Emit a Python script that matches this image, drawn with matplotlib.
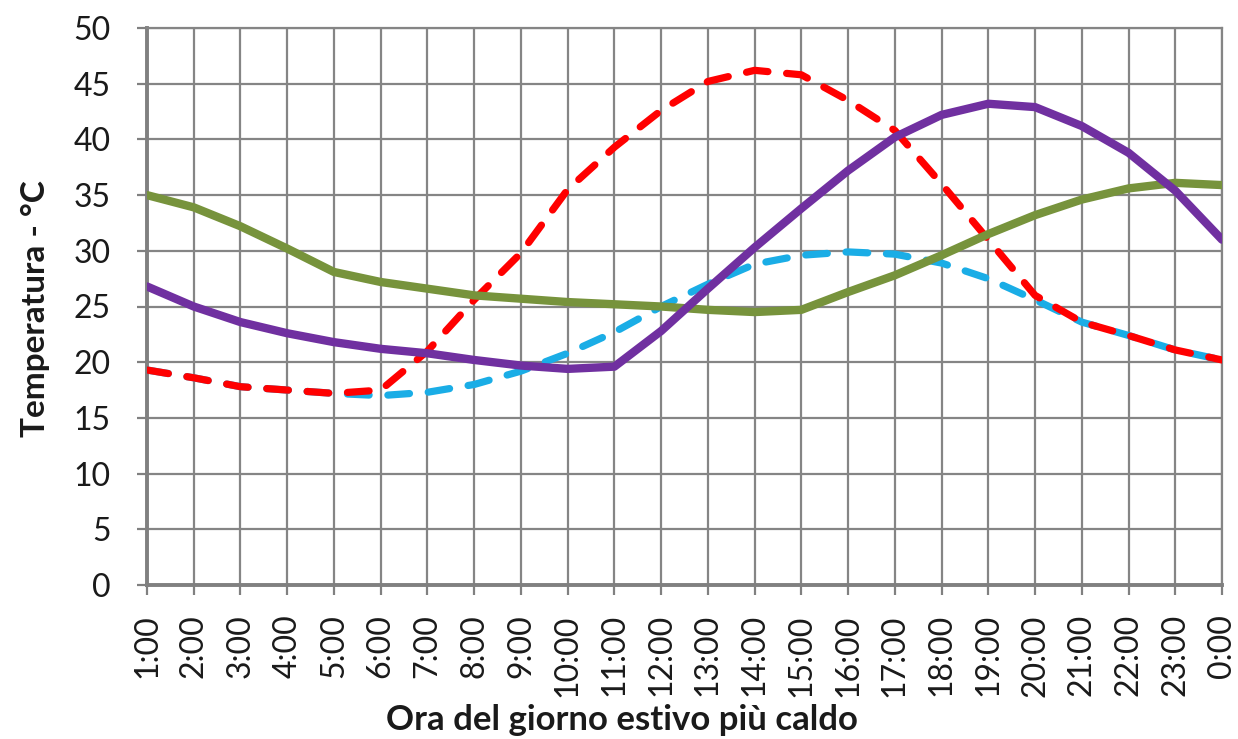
import matplotlib
matplotlib.use("Agg")
import matplotlib.pyplot as plt

hours = ["1:00", "2:00", "3:00", "4:00", "5:00", "6:00", "7:00", "8:00", "9:00",
         "10:00", "11:00", "12:00", "13:00", "14:00", "15:00", "16:00", "17:00",
         "18:00", "19:00", "20:00", "21:00", "22:00", "23:00", "0:00"]

red_series = [19.3, 18.6, 17.8, 17.5, 17.2, 17.5, 21.0, 25.6, 29.8, 35.5, 39.3, 42.6,
              45.2, 46.2, 45.8, 43.5, 40.8, 36.0, 31.0, 26.0, 23.6, 22.4, 21.1, 20.2]
cyan_series = [19.3, 18.6, 17.8, 17.5, 17.2, 17.0, 17.3, 18.0, 19.2, 20.8, 22.7, 25.0,
               27.0, 28.8, 29.6, 29.9, 29.7, 28.9, 27.5, 25.6, 23.6, 22.4, 21.1, 20.2]
purple_series = [26.8, 25.0, 23.6, 22.6, 21.8, 21.2, 20.8, 20.2, 19.7, 19.4, 19.6, 22.8,
                 26.6, 30.3, 33.8, 37.2, 40.2, 42.2, 43.2, 42.9, 41.2, 38.8, 35.4, 31.0]
green_series = [35.0, 33.9, 32.2, 30.2, 28.1, 27.2, 26.6, 26.0, 25.7, 25.4, 25.2, 25.0,
                24.7, 24.5, 24.7, 26.3, 27.8, 29.6, 31.5, 33.2, 34.6, 35.6, 36.1, 35.9]

y_ticks = [0, 5, 10, 15, 20, 25, 30, 35, 40, 45, 50]

W, H = 1238, 739
fig = plt.figure(figsize=(W / 100, H / 100), dpi=100)
ax = fig.add_axes([147 / W, 1 - 585 / H, (1222 - 147) / W, (585 - 28) / H])

x = list(range(len(hours)))
grid_c = "#858585"

ax.plot(x, cyan_series, color="#1AADE6", lw=5.2, linestyle=(0, (3.0, 2.6)),
        dash_capstyle="round", solid_capstyle="round", zorder=3)
ax.plot(x, red_series, color="#FF0000", lw=5.2, linestyle=(0, (3.0, 2.6)),
        dash_capstyle="round", solid_capstyle="round", zorder=4)
ax.plot(x, green_series, color="#77933C", lw=6.0, solid_capstyle="round",
        solid_joinstyle="round", zorder=5)
ax.plot(x, purple_series, color="#7030A0", lw=6.0, solid_capstyle="round",
        solid_joinstyle="round", zorder=6)

ax.set_xlim(0, len(hours) - 1)
ax.set_ylim(0, 50)
ax.set_xticks(x)
ax.set_xticklabels(hours, rotation=90, fontfamily="Lato", fontsize=23, color="#1a1a1a")
ax.set_yticks(y_ticks)
ax.set_yticklabels([str(v) for v in y_ticks], fontfamily="Lato", fontsize=23, color="#1a1a1a")

ax.grid(True, color=grid_c, lw=1.6, zorder=1)
ax.set_axisbelow(True)
for s in ["top", "right"]:
    ax.spines[s].set_color(grid_c)
    ax.spines[s].set_linewidth(1.6)
for s in ["left", "bottom"]:
    ax.spines[s].set_color("#808080")
    ax.spines[s].set_linewidth(2.8)
ax.tick_params(axis="y", direction="out", length=7, width=1.6, color="#808080", pad=19)
ax.tick_params(axis="x", direction="out", length=7, width=1.6, color="#808080", pad=14)

fig.text(35 / W, 1 - 309 / H, "Temperatura - °C", rotation=90, ha="center", va="center",
         fontfamily="Lato", fontweight="bold", fontsize=24, color="#1a1a1a")
fig.text(622 / W, 1 - 720 / H, "Ora del giorno estivo più caldo", ha="center", va="center",
         fontfamily="Lato", fontweight="bold", fontsize=25, color="#1a1a1a")

fig.savefig("out.png", dpi=100, facecolor="white")
